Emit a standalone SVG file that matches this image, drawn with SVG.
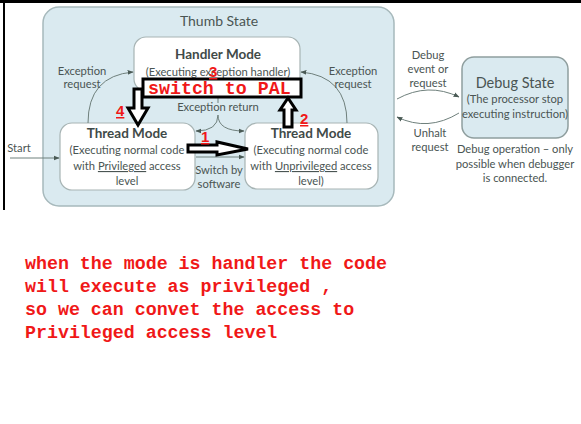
<svg xmlns="http://www.w3.org/2000/svg" width="581" height="424" viewBox="0 0 581 424">
<style>
.t{font-family:Lato,"Open Sans","Liberation Sans",sans-serif;fill:#4a5553;text-anchor:middle}
.s{font-size:11.2px}
.b{font-size:13.5px;font-weight:bold;fill:#3f4a48}
.c{fill:none;stroke:#6f807c;stroke-width:1}
.blk{fill:#fff;stroke:#000;stroke-width:3}
.red{font-family:"Liberation Mono",monospace;font-weight:bold;fill:#f01818}
.num{font-family:"Liberation Sans",sans-serif;font-weight:bold;font-size:15px;fill:#f01818;text-decoration:underline}
</style>
<defs>
<marker id="ah" viewBox="0 0 10 10" refX="9" refY="5" markerWidth="6" markerHeight="6" orient="auto-start-reverse" markerUnits="userSpaceOnUse">
<path d="M0,1 L10,5 L0,9 z" fill="#4a5a55"/>
</marker>
</defs>
<rect width="581" height="424" fill="#fff"/>
<rect x="0" y="0" width="581" height="3" fill="#000"/>
<rect x="3" y="0" width="2" height="210" fill="#000"/>

<g id="thumb-state">
<rect x="43" y="7" width="351" height="199" rx="16" fill="#daeaf0" stroke="#a7b9bc" stroke-width="1.5"/>
<text class="t" x="219" y="26" font-size="14">Thumb State</text>
</g>

<g id="debug-state">
<rect x="462" y="57" width="106" height="81" rx="12" fill="#daeaf0" stroke="#8f9e9e" stroke-width="1.5"/>
<text class="t" x="515" y="88" font-size="14.5">Debug State</text>
<text class="t s" x="515" y="103">(The processor stop</text>
<text class="t s" x="515" y="118">executing instruction)</text>
<text class="t s" x="515" y="153">Debug operation – only</text>
<text class="t s" x="515" y="168">possible when debugger</text>
<text class="t s" x="515" y="182">is connected.</text>
</g>

<g id="handler-mode">
<rect x="134" y="37" width="166" height="54" rx="12" fill="#fff" stroke="#a7b4b4" stroke-width="1.2"/>
<text class="t b" x="218" y="59">Handler Mode</text>
<text class="t s" x="218" y="76">(Executing exception handler)</text>
</g>

<g id="thread-privileged">
<rect x="60" y="123" width="135" height="67" rx="12" fill="#fff" stroke="#a7b4b4" stroke-width="1.2"/>
<text class="t b" x="127" y="138">Thread Mode</text>
<text class="t s" x="127" y="154">(Executing normal code</text>
<text class="t s" x="127" y="170">with <tspan text-decoration="underline">Privileged</tspan> access</text>
<text class="t s" x="127" y="185">level</text>
</g>

<g id="thread-unprivileged">
<rect x="245" y="123" width="133" height="66" rx="12" fill="#fff" stroke="#a7b4b4" stroke-width="1.2"/>
<text class="t b" x="311" y="138">Thread Mode</text>
<text class="t s" x="311" y="154">(Executing normal code</text>
<text class="t s" x="311" y="170">with <tspan text-decoration="underline">Unprivileged</tspan> access</text>
<text class="t s" x="311" y="185">level)</text>
</g>

<g id="connectors">
<path class="c" d="M10,158 H59" marker-end="url(#ah)"/>
<path class="c" d="M88,123 Q88,76 133,72" marker-end="url(#ah)"/>
<path class="c" d="M347,123 Q347,76 301,72" marker-end="url(#ah)"/>
<path class="c" d="M218,91 V103"/>
<path class="c" d="M218,115 Q218,131 196,131" marker-end="url(#ah)"/>
<path class="c" d="M218,115 Q218,131 244,131" marker-end="url(#ah)"/>
<path class="c" d="M196,157 H244" marker-end="url(#ah)"/>
<path class="c" d="M397,99 Q428,82 459,97" marker-end="url(#ah)"/>
<path class="c" d="M459,113 Q428,132 397,117" marker-end="url(#ah)"/>
</g>

<g id="labels">
<text class="t s" x="82" y="75">Exception</text>
<text class="t s" x="82" y="88">request</text>
<text class="t s" x="353" y="75">Exception</text>
<text class="t s" x="353" y="88">request</text>
<text class="t s" x="218" y="111">Exception return</text>
<text class="t s" x="219" y="174">Switch by</text>
<text class="t s" x="219" y="188">software</text>
<text class="t s" x="19" y="152">Start</text>
<text class="t s" x="428" y="59">Debug</text>
<text class="t s" x="428" y="73">event or</text>
<text class="t s" x="428" y="87">request</text>
<text class="t s" x="430" y="137">Unhalt</text>
<text class="t s" x="430" y="151">request</text>
</g>

<g id="annotations">
<rect x="143" y="79" width="158" height="18" fill="#fff" stroke="#000" stroke-width="3"/>
<text class="red" x="148" y="94" font-size="18.3">switch to PAL</text>
<text class="num" x="209" y="77">3</text>
<path class="blk" stroke-width="2" d="M134,89 H142 V108 H148 L138,125 L128,108 H134 Z"/>
<text class="num" x="116" y="116">4</text>
<path class="blk" stroke-width="2" d="M284,127 H292 V110 H296 L288,98 L280,110 H284 Z"/>
<text class="num" x="300" y="124">2</text>
<path class="blk" stroke-width="2" d="M188,145 H217 V142 L248,149 L217,155 V152 H188 Z"/>
<text class="num" x="201" y="142">1</text>
</g>

<g id="note" class="red" font-size="18.3">
<text x="25" y="269">when the mode is handler the code</text>
<text x="25" y="292">will execute as privileged ,</text>
<text x="25" y="315">so we can convet the access to</text>
<text x="25" y="338">Privileged access level</text>
</g>
</svg>
